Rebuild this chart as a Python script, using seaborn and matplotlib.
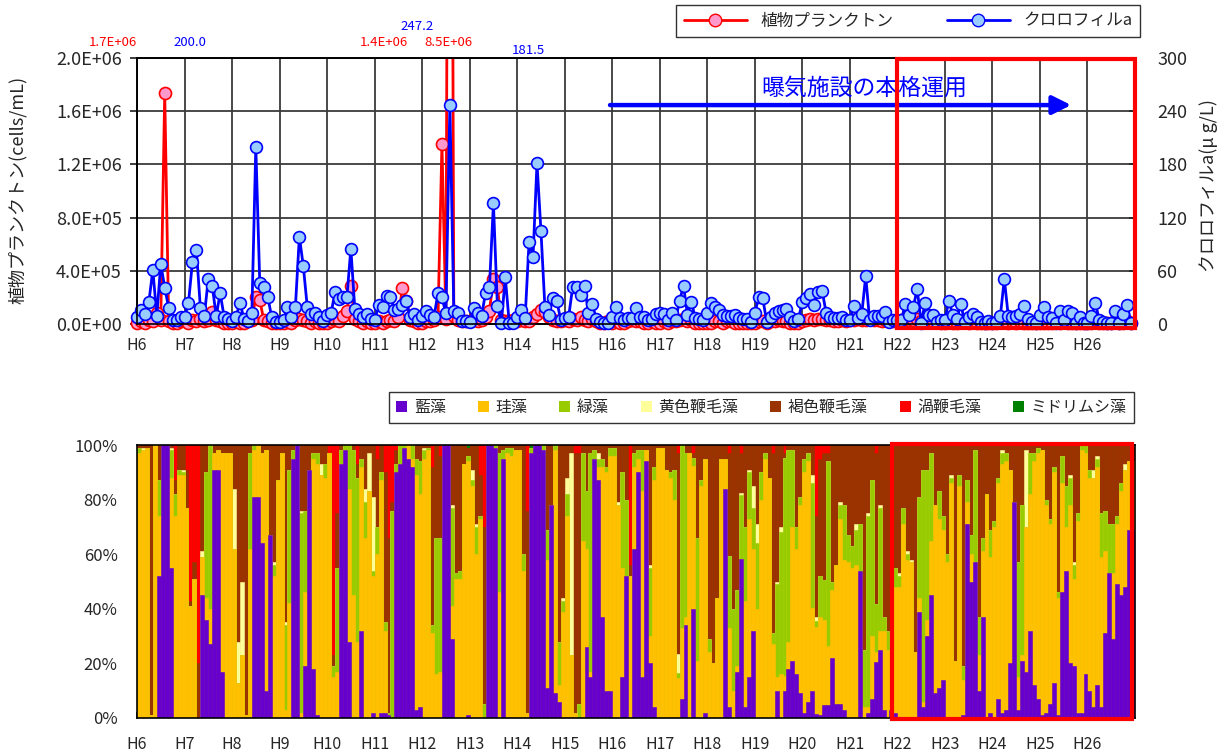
import numpy as np
import pandas as pd
import seaborn as sns
import matplotlib.pyplot as plt
from matplotlib.ticker import FuncFormatter
from matplotlib.lines import Line2D
from matplotlib.patches import Patch, Rectangle

sns.set_theme(style='white')
plt.rcParams['font.family'] = ['Noto Sans CJK JP', 'DejaVu Sans']

# 年度 (H6〜H26, 毎月調査)
years = ['H%d' % y for y in range(6, 27)]

# 植物プランクトン (x10^4 cells/mL)
phyto_1e4 = [
    1, 2, 1, 3, 2, 8, 3, 174, 2, 1, 1, 2,        # H6
    2, 1, 3, 2, 4, 2, 3, 9, 3, 2, 1, 1,          # H7
    1, 2, 1, 1, 2, 3, 20.5, 18, 3, 2, 1, 1,      # H8
    1, 1, 2, 1, 3, 4, 3, 2, 1, 2, 1, 1,          # H9
    1, 2, 3, 2, 6, 10, 28.6, 4, 2, 1, 2, 1,      # H10
    1, 2, 1, 2, 3, 2, 5, 27, 17, 3, 2, 1,        # H11
    1, 2, 2, 3, 5, 135, 4, 850, 6, 3, 2, 2,      # H12
    2, 3, 2, 3, 5, 10, 34, 27.6, 3, 2, 2, 3,     # H13
    2, 3, 2, 2, 5, 7.5, 10.5, 9, 5, 3, 2, 2,     # H14
    3, 2, 4, 3, 5, 3, 2, 4, 2, 1, 1, 2,          # H15
    1, 2, 1, 1, 2, 3, 2, 2, 1, 1, 2, 1,          # H16
    1, 2, 1, 2, 2, 3, 4, 2, 3, 1, 1, 1,          # H17
    1, 1, 2, 2, 1, 2, 2, 1, 1, 1, 1, 1,          # H18
    1, 2, 2, 1, 2, 2, 3, 2, 2, 1, 1, 1,          # H19
    2, 3, 4, 3, 4, 4, 3, 3, 2, 2, 3, 2,          # H20
    3, 3, 4, 3, 3, 4, 3, 3, 2, 3, 3, 2,          # H21
    2, 3, 2, 3, 3, 4, 2, 3, 2, 2, 2, 1,          # H22
    1, 2, 1, 1, 2, 2, 1, 2, 1, 1, 1, 1,          # H23
    1, 1, 2, 2, 1, 2, 1, 2, 1, 1, 1, 1,          # H24
    1, 1, 1, 1, 2, 1, 2, 1, 1, 1, 1, 1,          # H25
    1, 1, 2, 1, 1, 1, 1, 2, 1, 1, 2, 1,          # H26
]

# クロロフィルa (μg/L)
chl = [
    8, 16, 11, 25, 61, 9, 68, 41, 18, 5, 5, 8,
    8, 24, 70, 84, 18, 9, 51, 43, 9, 35, 8, 6,
    3, 8, 24, 6, 3, 12, 200, 46, 42, 31, 8, 2,
    2, 5, 19, 8, 19.5, 98.5, 65, 19, 11, 12, 8, 3,
    10, 12, 36, 28, 30, 30, 85, 17, 11, 8, 11, 6,
    4, 21, 19, 32, 30, 16, 17, 21, 26, 8, 11, 4,
    9, 15, 10, 8, 35, 30, 12, 247.2, 15, 12, 3, 3,
    2.6, 17.7, 12.8, 9.4, 34.6, 42, 136, 20, 1.5, 52.6, 0.8, 1.5,
    8.3, 15.8, 6.4, 92.8, 76, 181.5, 105, 18.8, 10, 29.7, 26, 4.5,
    7.1, 8.3, 41.4, 42, 32.7, 42.9, 12, 22.2, 5.3, 2.6, 0.8, 1.5,
    8.3, 18.8, 6.4, 4.5, 6.4, 7.1, 17.7, 8.3, 8.3, 4.5, 6, 11,
    12, 11.3, 4.5, 12, 4.5, 26.3, 43.2, 10, 24.4, 6.4, 5.7, 4.5,
    12, 24, 18.8, 15.8, 10, 9.4, 9, 10.6, 6.8, 5.9, 5.3, 2.6,
    12, 30.8, 29, 2.6, 8.3, 12, 15, 16, 17, 8.3, 3.5, 5.3,
    25.2, 29, 33.8, 21.4, 36.5, 37.6, 12.8, 8.3, 6.4, 6.4, 8.3, 4,
    4, 20.3, 6.4, 11, 54, 4, 9, 9, 9, 14, 2.6, 4,
    4, 4.5, 22.6, 10, 18.8, 39.5, 1.5, 23.3, 10, 10, 2.6, 4.5,
    4.5, 26.3, 10, 5.3, 22.6, 2.6, 8.3, 11, 8.3, 2, 0.8, 3,
    0.8, 2.6, 9, 50.7, 9, 8.3, 9, 11, 20.3, 5.3, 2.6, 0.8,
    10, 18.8, 8.3, 6.4, 0.8, 14.7, 4.5, 14.7, 12.8, 0.8, 8.3, 1.5,
    1.5, 9, 23.3, 4.5, 2.6, 0.8, 0.8, 14.7, 1.5, 11, 21.4, 0.8,
]

# 綱別組成比 (%)
aizou = [
    0, 0, 0, 0, 0, 52, 100, 100, 55, 0, 0, 0,
    0, 0, 0, 0, 45, 36, 27, 91, 91, 17, 0, 0,
    0, 0, 0, 0, 0, 81, 81, 64, 10, 67, 0, 0,
    0, 0, 0, 95, 100, 0, 19, 91, 18, 1, 0, 0,
    0, 0, 0, 93, 98, 28, 0, 0, 32, 0, 0, 2,
    0, 2, 2, 1, 0, 90, 93, 99, 95, 92, 3, 4,
    0, 0, 0, 0, 0, 100, 100, 29, 0, 0, 0, 1,
    0, 0, 0, 0, 100, 100, 99, 0, 95, 0, 0, 0,
    0, 0, 0, 98, 100, 100, 98, 11, 78, 9, 6, 0,
    0, 0, 0, 0, 0, 26, 15, 95, 87, 37, 10, 10,
    0, 0, 15, 52, 0, 62, 90, 15, 94, 20, 4, 0,
    0, 0, 0, 0, 0, 7, 34, 0, 41, 0, 0, 2,
    0, 0, 0, 0, 84, 4, 0, 17, 60, 4, 15, 32,
    0, 0, 0, 0, 0, 10, 0, 10, 18, 21, 16, 9,
    2, 6, 7, 2, 1, 5, 5, 22, 5, 5, 3, 0,
    0, 0, 54, 0, 2, 7, 21, 25, 3, 0, 3, 2,
    0, 0, 0, 0, 0, 39, 4, 30, 45, 9, 11, 14,
    0, 0, 0, 0, 1, 71, 50, 57, 10, 37, 0, 2,
    0, 7, 2, 3, 20, 79, 3, 21, 17, 32, 12, 7,
    1, 2, 5, 13, 1, 46, 54, 20, 19, 2, 2, 16,
    10, 4, 12, 4, 31, 53, 29, 49, 45, 48, 69, 69,
]
keisou = [
    97, 98, 99, 1, 100, 22, 0, 0, 33, 74, 89, 89,
    77, 41, 51, 0, 14, 8, 13, 6, 7, 80, 97, 97,
    62, 13, 23, 1, 62, 17, 19, 33, 88, 0, 52, 87,
    97, 3, 42, 0, 0, 2, 27, 0, 77, 92, 89, 88,
    97, 15, 17, 0, 0, 56, 45, 28, 60, 66, 83, 50,
    60, 85, 30, 0, 0, 0, 0, 0, 5, 3, 86, 78,
    95, 98, 31, 16, 17, 0, 0, 12, 51, 51, 93, 94,
    85, 60, 73, 0, 0, 0, 0, 46, 0, 97, 96, 98,
    98, 54, 2, 0, 0, 0, 0, 47, 0, 89, 6, 39,
    74, 23, 2, 0, 65, 36, 2, 0, 5, 55, 80, 86,
    96, 78, 40, 0, 52, 30, 5, 68, 4, 10, 83, 99,
    99, 91, 88, 80, 15, 26, 3, 97, 54, 21, 85, 93,
    24, 20, 44, 95, 11, 30, 10, 2, 0, 39, 58, 30,
    40, 80, 95, 88, 28, 5, 16, 6, 10, 49, 46, 69,
    88, 88, 22, 43, 36, 32, 22, 25, 51, 68, 55, 57,
    55, 56, 0, 4, 2, 23, 4, 7, 29, 25, 22, 46,
    48, 71, 58, 57, 24, 5, 2, 6, 20, 69, 62, 55,
    57, 86, 21, 85, 13, 8, 10, 0, 13, 24, 82, 57,
    70, 79, 91, 91, 71, 0, 12, 2, 53, 50, 82, 90,
    97, 76, 66, 77, 43, 40, 16, 58, 32, 70, 96, 81,
    78, 84, 80, 55, 30, 0, 24, 22, 38, 43, 25, 25,
]
ryokusou = [
    2, 0, 0, 0, 0, 13, 0, 0, 10, 8, 2, 1,
    0, 0, 0, 0, 0, 46, 60, 0, 0, 0, 0, 0,
    0, 0, 0, 0, 35, 2, 0, 0, 0, 0, 4, 0,
    0, 31, 49, 3, 0, 73, 30, 0, 2, 4, 0, 5,
    0, 4, 38, 5, 2, 16, 53, 60, 3, 13, 0, 2,
    10, 3, 3, 1, 76, 3, 7, 1, 0, 5, 6, 12,
    3, 1, 3, 50, 49, 0, 0, 36, 2, 3, 0, 2,
    2, 10, 1, 5, 0, 0, 1, 51, 3, 2, 3, 0,
    0, 6, 0, 2, 0, 0, 2, 11, 0, 2, 16, 4,
    8, 0, 0, 5, 32, 21, 80, 3, 3, 3, 2, 3,
    3, 0, 35, 28, 0, 5, 3, 15, 0, 25, 5, 0,
    0, 0, 2, 11, 2, 67, 60, 0, 3, 45, 2, 0,
    5, 0, 0, 0, 0, 27, 30, 28, 24, 27, 17, 15,
    24, 10, 2, 0, 4, 34, 52, 82, 70, 28, 8, 3,
    5, 3, 33, 3, 15, 15, 70, 3, 0, 5, 20, 10,
    8, 13, 17, 21, 70, 57, 18, 45, 5, 7, 0, 7,
    4, 6, 2, 0, 0, 37, 85, 55, 32, 0, 10, 5,
    3, 2, 0, 4, 5, 8, 7, 41, 14, 5, 0, 10,
    2, 2, 4, 3, 0, 0, 42, 55, 0, 15, 3, 2,
    0, 2, 2, 2, 2, 10, 15, 10, 5, 3, 2, 3,
    3, 0, 3, 16, 15, 18, 18, 3, 3, 0, 0, 0,
]
oushoku = [
    0, 1, 0, 0, 0, 0, 0, 0, 1, 0, 0, 1,
    0, 0, 0, 0, 2, 0, 0, 0, 0, 0, 0, 0,
    22, 15, 27, 0, 0, 0, 0, 0, 0, 0, 1, 0,
    0, 1, 0, 0, 0, 1, 0, 0, 0, 0, 4, 0,
    0, 0, 0, 0, 0, 0, 0, 0, 0, 5, 14, 27,
    0, 0, 0, 0, 0, 0, 0, 0, 0, 0, 0, 0,
    1, 0, 0, 0, 0, 0, 0, 1, 0, 0, 0, 0,
    4, 1, 0, 0, 0, 0, 0, 0, 0, 0, 0, 0,
    0, 0, 0, 0, 0, 0, 0, 0, 0, 0, 0, 1,
    6, 74, 0, 0, 0, 0, 0, 0, 2, 0, 0, 0,
    0, 1, 0, 0, 0, 0, 0, 0, 0, 1, 0, 0,
    0, 0, 0, 0, 7, 0, 0, 0, 0, 0, 0, 0,
    0, 0, 0, 0, 0, 0, 0, 0, 1, 0, 1, 8,
    7, 0, 0, 0, 0, 1, 2, 0, 0, 0, 0, 0,
    0, 0, 2, 2, 0, 0, 0, 0, 0, 1, 0, 0,
    0, 2, 0, 0, 1, 0, 0, 1, 0, 0, 0, 0,
    1, 0, 1, 1, 0, 0, 0, 0, 0, 0, 0, 0,
    0, 1, 0, 0, 0, 0, 0, 0, 0, 0, 0, 0,
    0, 0, 1, 0, 0, 0, 0, 0, 28, 0, 0, 0,
    0, 0, 0, 0, 0, 0, 0, 1, 1, 0, 0, 0,
    0, 3, 1, 0, 0, 0, 0, 0, 0, 2, 0, 0,
]
kasshoku = [
    1, 1, 1, 99, 0, 13, 0, 0, 1, 5, 9, 9,
    14, 2, 6, 20, 39, 10, 0, 3, 2, 3, 3, 3,
    16, 72, 50, 99, 3, 0, 0, 3, 2, 33, 43, 13,
    3, 65, 9, 2, 0, 24, 24, 9, 3, 3, 7, 7,
    0, 4, 20, 2, 0, 0, 2, 5, 5, 16, 3, 19,
    25, 10, 55, 64, 3, 5, 0, 0, 0, 0, 5, 6,
    1, 1, 58, 34, 30, 0, 0, 22, 47, 46, 7, 3,
    9, 29, 15, 65, 0, 0, 0, 3, 2, 1, 1, 2,
    2, 40, 74, 0, 0, 0, 0, 31, 22, 0, 72, 56,
    12, 3, 95, 92, 3, 17, 3, 2, 3, 5, 8, 1,
    1, 21, 10, 20, 4, 3, 2, 2, 2, 44, 8, 1,
    1, 9, 10, 9, 76, 0, 3, 3, 2, 34, 13, 5,
    71, 80, 56, 5, 5, 39, 60, 53, 15, 30, 9, 15,
    29, 10, 3, 12, 68, 50, 30, 2, 2, 2, 30, 19,
    5, 3, 8, 50, 43, 48, 3, 50, 44, 21, 22, 33,
    37, 29, 29, 75, 25, 13, 57, 22, 63, 68, 75, 45,
    47, 23, 39, 42, 76, 19, 9, 9, 3, 22, 17, 26,
    40, 11, 79, 11, 81, 13, 33, 2, 63, 34, 18, 31,
    28, 12, 2, 3, 9, 21, 43, 22, 2, 3, 3, 1,
    2, 20, 27, 8, 54, 4, 15, 11, 43, 25, 0, 0,
    9, 9, 4, 25, 24, 29, 29, 26, 14, 7, 6, 6,
]
uzuben = [
    0, 0, 0, 0, 0, 0, 0, 0, 0, 13, 0, 0,
    9, 57, 43, 80, 0, 0, 0, 0, 0, 0, 0, 0,
    0, 0, 0, 0, 0, 0, 0, 0, 0, 0, 0, 0,
    0, 0, 0, 0, 0, 0, 0, 0, 0, 0, 0, 0,
    3, 77, 25, 0, 0, 0, 0, 7, 0, 0, 0, 0,
    5, 0, 10, 34, 21, 2, 0, 0, 0, 0, 0, 0,
    0, 0, 8, 0, 4, 0, 0, 0, 0, 0, 0, 0,
    0, 0, 11, 30, 0, 0, 0, 0, 0, 0, 0, 0,
    0, 0, 24, 0, 0, 0, 0, 0, 0, 0, 0, 0,
    0, 0, 3, 3, 0, 0, 0, 0, 0, 0, 0, 0,
    0, 0, 0, 0, 44, 0, 0, 0, 0, 0, 0, 0,
    0, 0, 0, 0, 3, 0, 0, 0, 3, 0, 0, 0,
    0, 0, 0, 0, 0, 3, 0, 0, 3, 0, 0, 0,
    0, 0, 0, 0, 3, 0, 0, 3, 0, 0, 0, 0,
    0, 0, 0, 35, 5, 3, 3, 0, 0, 0, 0, 0,
    0, 0, 0, 0, 0, 0, 3, 0, 0, 0, 0, 0,
    0, 0, 0, 0, 0, 0, 0, 0, 0, 0, 0, 0,
    0, 0, 0, 0, 0, 0, 0, 0, 0, 0, 0, 0,
    0, 0, 0, 0, 0, 0, 0, 0, 0, 0, 0, 0,
    0, 0, 0, 0, 0, 0, 0, 0, 0, 0, 0, 0,
    0, 0, 0, 0, 0, 0, 0, 0, 0, 0, 0, 0,
]
midorimushi = [
    0, 0, 0, 0, 0, 0, 0, 0, 0, 0, 0, 0,
    0, 0, 0, 0, 0, 0, 0, 0, 0, 0, 0, 0,
    0, 0, 0, 0, 0, 0, 0, 0, 0, 0, 0, 0,
    0, 0, 0, 0, 0, 0, 0, 0, 0, 0, 0, 0,
    0, 0, 0, 0, 0, 0, 0, 0, 0, 0, 0, 0,
    0, 0, 0, 0, 0, 0, 0, 0, 0, 0, 0, 0,
    0, 0, 0, 0, 0, 0, 0, 0, 0, 0, 0, 1,
    0, 0, 0, 0, 0, 0, 0, 0, 0, 0, 0, 0,
    0, 0, 0, 1, 0, 0, 0, 0, 0, 0, 0, 0,
    0, 0, 0, 0, 0, 0, 0, 0, 0, 0, 0, 0,
    0, 0, 0, 0, 0, 0, 0, 0, 0, 0, 0, 0,
    0, 0, 0, 0, 0, 0, 0, 0, 0, 0, 0, 0,
    0, 0, 0, 0, 0, 0, 0, 0, 0, 0, 0, 0,
    0, 0, 0, 0, 0, 0, 0, 0, 0, 0, 0, 0,
    0, 0, 0, 0, 0, 0, 0, 0, 0, 0, 0, 0,
    0, 0, 0, 0, 0, 0, 0, 0, 0, 0, 0, 0,
    0, 0, 0, 0, 0, 0, 0, 0, 0, 0, 0, 0,
    0, 0, 0, 0, 0, 0, 0, 0, 0, 0, 0, 0,
    0, 0, 0, 0, 0, 0, 0, 0, 0, 0, 0, 0,
    0, 0, 0, 0, 0, 0, 0, 0, 0, 0, 0, 0,
    0, 0, 0, 0, 0, 0, 0, 0, 0, 0, 0, 0,
]

taxa = ['藍藻', '珪藻', '緑藻', '黄色鞭毛藻', '褐色鞭毛藻', '渦鞭毛藻', 'ミドリムシ藻']
colores = ['#6600CC', '#FFC000', '#99CC00', '#FFFF99', '#993300', '#FF0000', '#008000']

n = len(chl)
df = pd.DataFrame({'mes': np.arange(n),
                   'phyto': np.array(phyto_1e4) * 1e4,
                   'chl': chl})

comp = pd.DataFrame(dict(zip(taxa, [aizou, keisou, ryokusou, oushoku,
                                    kasshoku, uzuben, midorimushi])))
comp = comp.div(comp.sum(axis=1), axis=0) * 100
cum = comp.cumsum(axis=1)

W, H = 1228, 754
fig = plt.figure(figsize=(W / 100, H / 100), dpi=100)

# ---------------- grafico superior ----------------
ax1 = fig.add_axes([137 / W, 1 - 324 / H, 998 / W, 266 / H])
ax2 = ax1.twinx()

# linea roja recortada (el pico de 8.5E+06 sale del eje), marcadores sin recortar
sns.lineplot(data=df, x='mes', y='phyto', ax=ax1, color='#FF0000', linewidth=2)
sns.scatterplot(data=df, x='mes', y='phyto', ax=ax1, color='#FF99CC', s=75,
                edgecolor='#FF0000', linewidth=1.2, clip_on=False, zorder=3)
sns.lineplot(data=df, x='mes', y='chl', ax=ax2, color='#0000FF', linewidth=2,
             marker='o', markersize=8.5, markerfacecolor='#99CCFF',
             markeredgecolor='#0000FF', markeredgewidth=1.2, clip_on=False)

ax1.set_xlim(0, n)
ax1.set_ylim(0, 2e6)
ax2.set_ylim(0, 300)
ax1.set_xticks(np.arange(0, n + 1, 12))
ax1.set_xticklabels(years + [''])
ax1.set_yticks(np.arange(0, 2.01e6, 4e5))
ax1.yaxis.set_major_formatter(FuncFormatter(lambda v, p: '%.1E' % v))
ax2.set_yticks(np.arange(0, 301, 60))
ax1.grid(True, color='#3a3a3a', linewidth=1.3)
ax1.tick_params(axis='x', labelsize=11.5, length=0, pad=9)
ax1.tick_params(axis='y', labelsize=13, length=5, direction='out', pad=6, left=True)
ax2.tick_params(axis='y', labelsize=13, length=4, direction='in', pad=16, right=True)
ax1.set_xlabel('')
ax1.set_ylabel('')
ax2.set_ylabel('')
for ax in (ax1, ax2):
    for s in ax.spines.values():
        s.set_color('black')
        s.set_linewidth(1.2)

fig.text(18 / W, 1 - 190 / H, '植物プランクトン(cells/mL)', rotation=90,
         ha='center', va='center', fontsize=13)
fig.text(1209 / W, 1 - 186 / H, 'クロロフィルa(μ g/L)', rotation=90,
         ha='center', va='center', fontsize=13)

# valores fuera de escala
notas = [('1.7E+06', 113, 43, '#FF0000'), ('200.0', 190, 43, '#0000FF'),
         ('247.2', 417, 27, '#0000FF'), ('1.4E+06', 384, 43, '#FF0000'),
         ('8.5E+06', 448, 43, '#FF0000'), ('181.5', 528, 50, '#0000FF')]
for txt, px, py, c in notas:
    fig.text(px / W, 1 - py / H, txt, color=c, fontsize=9.5, ha='center', va='center')

ax2.annotate('', xy=(0.936, 0.823), xytext=(0.474, 0.823), xycoords='axes fraction',
             arrowprops=dict(arrowstyle='-|>', color='#0000FF', lw=3.2,
                             mutation_scale=28, shrinkA=0, shrinkB=0))
ax2.text(0.729, 0.888, '曝気施設の本格運用', transform=ax2.transAxes, color='#0000FF',
         fontsize=16.5, ha='center', va='center')

ax2.add_patch(Rectangle((0.762, -0.015), 0.238, 1.011, transform=ax2.transAxes,
                        fill=False, edgecolor='#FF0000', linewidth=3, clip_on=False,
                        zorder=10))

leg1 = [Line2D([], [], color='#FF0000', lw=2, marker='o', ms=9,
               mfc='#FF99CC', mec='#FF0000'),
        Line2D([], [], color='#0000FF', lw=2, marker='o', ms=9,
               mfc='#99CCFF', mec='#0000FF')]
lg = fig.legend(leg1, ['植物プランクトン', 'クロロフィルa'], ncol=2,
                loc='upper right', bbox_to_anchor=(1140 / W, 1 - 5 / H),
                borderaxespad=0, fontsize=12, frameon=True, fancybox=False,
                edgecolor='black', handlelength=3.8, columnspacing=3.2,
                borderpad=0.45)
lg.get_frame().set_linewidth(1.0)

# ---------------- grafico inferior ----------------
ax3 = fig.add_axes([137 / W, 1 - 718 / H, 998 / W, 273 / H])
xpos = np.arange(n) + 0.5
for name, c in list(zip(taxa, colores))[::-1]:
    sns.barplot(x=xpos, y=cum[name].values, ax=ax3, color=c, native_scale=True,
                width=1, errorbar=None, saturation=1, linewidth=0.4,
                edgecolor=c, orient='x')

ax3.set_xlim(0, n)
ax3.set_ylim(0, 100)
ax3.set_xticks(np.arange(0, n, 12))
ax3.set_xticklabels(years)
ax3.set_yticks(np.arange(0, 101, 20))
ax3.set_yticklabels(['%d%%' % v for v in range(0, 101, 20)])
ax3.tick_params(axis='x', labelsize=11.5, direction='in', length=4, pad=13, bottom=True)
ax3.tick_params(axis='y', labelsize=12, length=0, pad=14)
ax3.set_xlabel('')
ax3.set_ylabel('')
for s in ax3.spines.values():
    s.set_color('black')
    s.set_linewidth(1.2)

ax3.add_patch(Rectangle((0.7565, -0.004), 0.2405, 1.007, transform=ax3.transAxes,
                        fill=False, edgecolor='#FF0000', linewidth=3, clip_on=False,
                        zorder=10))

leg2 = [Patch(facecolor=c, edgecolor='none') for c in colores]
lg2 = fig.legend(leg2, taxa, ncol=7, loc='upper right',
                 bbox_to_anchor=(1134 / W, 1 - 392 / H), borderaxespad=0,
                 fontsize=11.5, frameon=True, fancybox=False, edgecolor='black',
                 handlelength=0.7, handleheight=0.7, handletextpad=0.4,
                 columnspacing=2.0, borderpad=0.45)
lg2.get_frame().set_linewidth(1.0)

plt.savefig('out.png', dpi=100)
